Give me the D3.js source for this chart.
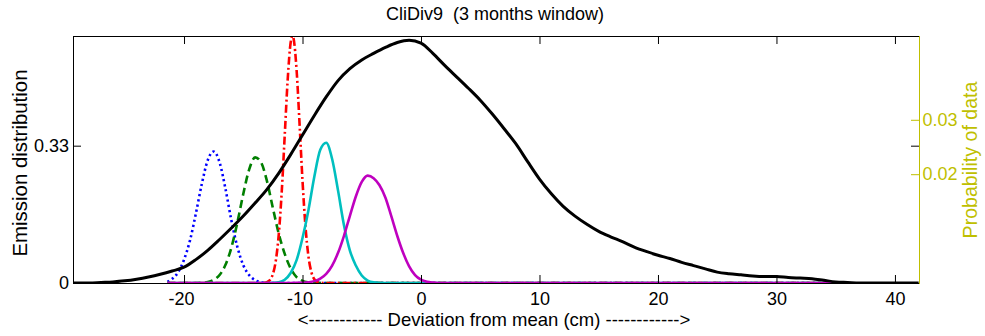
<!DOCTYPE html>
<html>
<head>
<meta charset="utf-8">
<script src="https://cdn.jsdelivr.net/npm/d3@7"></script>
<style>
  html, body { margin: 0; padding: 0; background: #fff; }
  svg { display: block; font-family: "Liberation Sans", Arial, sans-serif; }
  text { white-space: pre; }
</style>
</head>
<body>
<svg id="chart" width="985" height="336"></svg>
<script>
// ---------- data ----------
const titleText = "CliDiv9  (3 months window)";
const xLabelText = "<------------ Deviation from mean (cm) ------------>";
const yLeftLabelText = "Emission distribution";
const yRightLabelText = "Probability of data";

const xDomain = [-29.37, 42.03];
const yLeftDomain = [0, 0.5936];
const yRightDomain = [0, 0.0454];

const xTicks = [-20, -10, 0, 10, 20, 30, 40];
const yLeftTicks = [0, 0.33];
const yLeftTickLabels = ["0", "0.33"];
const yRightTicks = [0.02, 0.03];
const yRightTickLabels = ["0.02", "0.03"];

// Emission distributions (left axis)
const blueX = [-21.4, -21, -20.5, -20, -19.5, -19, -18.5, -18, -17.5, -17, -16.5, -16, -15.5, -15, -14.5, -14, -13.5, -13, -12.5, 35.5];
const blueY = [0.003, 0.010, 0.026, 0.056, 0.102, 0.167, 0.238, 0.295, 0.316, 0.290, 0.226, 0.150, 0.087, 0.043, 0.019, 0.007, 0.002, 0.0005, 0, 0];

const greenX = [-21.4, -19, -18.5, -18, -17.5, -17, -16.5, -16, -15.5, -15, -14.5, -14, -13.5, -13, -12.5, -12, -11.5, -11, -10.5, -10, -9.5, -9, -8.5, 35.5];
const greenY = [0, 0.0001, 0.0007, 0.0024, 0.0074, 0.0192, 0.0436, 0.0855, 0.145, 0.214, 0.273, 0.302, 0.290, 0.245, 0.180, 0.118, 0.070, 0.035, 0.014, 0.005, 0.0015, 0.0003, 0, 0];

const redX = [-21.4, -13.75, -13.5, -13.25, -13, -12.75, -12.5, -12.25, -12, -11.75, -11.5, -11.25, -11, -10.85, -10.75, -10.5, -10.25, -10, -9.75, -9.5, -9.25, -9, -8.75, -8.5, -8.25, 35.5];
const redY = [0, 0, 0.0001, 0.0005, 0.0021, 0.0072, 0.0214, 0.0543, 0.118, 0.221, 0.355, 0.489, 0.578, 0.594, 0.587, 0.512, 0.383, 0.246, 0.136, 0.064, 0.026, 0.0091, 0.0027, 0.0007, 0, 0];

const cyanX = [-21.4, -13, -12.5, -12, -11.5, -11, -10.5, -10, -9.5, -9, -8.5, -8, -7.5, -7, -6.5, -6, -5.5, -5, -4.5, -4, -3.5, -3, 35.5];
const cyanY = [0, 0, 0.0004, 0.002, 0.008, 0.024, 0.055, 0.108, 0.175, 0.256, 0.320, 0.337, 0.298, 0.222, 0.139, 0.078, 0.042, 0.018, 0.006, 0.0015, 0.0003, 0, 0];

const magentaX = [-21.4, -11, -10.5, -10, -9.5, -9, -8.5, -8, -7.5, -7, -6.5, -6, -5.5, -5, -4.5, -4, -3.5, -3, -2.5, -2, -1.5, -1, -0.5, 0, 0.5, 1, 1.5, 35.4];
const magentaY = [0, 0, 0.0002, 0.0006, 0.0018, 0.0045, 0.0105, 0.022, 0.042, 0.0725, 0.1135, 0.1615, 0.208, 0.243, 0.258, 0.252, 0.235, 0.205, 0.160, 0.113, 0.072, 0.040, 0.019, 0.008, 0.003, 0.001, 0, 0];

// Probability of data (right axis)
const blackX = [-29.4, -29, -28, -27, -26, -25, -24, -23, -22, -21, -20, -19, -18, -17, -16, -15, -14, -13, -12, -11, -10, -9, -8, -7, -6, -5, -4, -3, -2, -1, 0, 1, 2, 3, 4, 5, 6, 7, 8, 9, 10, 11, 12, 13, 14, 15, 16, 17, 18, 19, 20, 21, 22, 23, 24, 25, 26, 27, 28, 29, 30, 31, 32, 33, 34, 35, 36, 37, 38, 39, 40, 41, 42];
const blackY = [0, 0, 0, 0.0001, 0.0002, 0.0004, 0.0007, 0.0011, 0.0016, 0.0022, 0.0029, 0.0043, 0.0060, 0.0080, 0.0101, 0.0123, 0.0147, 0.0172, 0.0202, 0.0236, 0.0272, 0.0308, 0.0342, 0.0372, 0.0394, 0.0410, 0.0422, 0.0433, 0.0442, 0.0446, 0.0441, 0.0422, 0.0400, 0.0379, 0.0358, 0.0336, 0.0311, 0.0284, 0.0256, 0.0223, 0.0191, 0.0164, 0.0141, 0.0123, 0.0108, 0.0095, 0.0085, 0.0076, 0.0066, 0.0058, 0.0051, 0.0045, 0.0038, 0.0032, 0.0026, 0.0020, 0.0017, 0.0015, 0.0013, 0.0012, 0.0012, 0.0010, 0.0009, 0.0008, 0.0005, 0.0002, 0.0001, 0, 0, 0, 0, 0, 0];

const emissionSeries = [
  { name: "state1", xs: blueX, ys: blueY, color: "#0000ff", dash: "2.2,3", width: 2.6 },
  { name: "state2", xs: greenX, ys: greenY, color: "#007f00", dash: "8,4.5", width: 2.6 },
  { name: "state3", xs: redX, ys: redY, color: "#ff0000", dash: "8,3,2,3", width: 2.6 },
  { name: "state4", xs: cyanX, ys: cyanY, color: "#00bfbf", dash: null, width: 2.6 },
  { name: "state5", xs: magentaX, ys: magentaY, color: "#bf00bf", dash: null, width: 2.6 }
];

// ---------- layout ----------
const L = 73, T = 36, R = 919, B = 283;
const yellow = "#bfbf00";
const svg = d3.select("#chart");

const x = d3.scaleLinear().domain(xDomain).range([L, R]);
const yL = d3.scaleLinear().domain(yLeftDomain).range([B, T]);
const yR = d3.scaleLinear().domain(yRightDomain).range([B, T]);

svg.append("defs").append("clipPath").attr("id", "clip")
  .append("rect").attr("x", L).attr("y", T).attr("width", R - L).attr("height", B - T);

// ---------- data lines ----------
const plot = svg.append("g").attr("clip-path", "url(#clip)");
const lineL = d3.line().x(d => x(d[0])).y(d => yL(d[1])).curve(d3.curveMonotoneX);
const lineR = d3.line().x(d => x(d[0])).y(d => yR(d[1])).curve(d3.curveMonotoneX);

emissionSeries.forEach(s => {
  const pts = s.xs.map((v, i) => [v, s.ys[i]]);
  plot.append("path")
    .attr("d", lineL(pts))
    .attr("fill", "none")
    .attr("stroke", s.color)
    .attr("stroke-width", s.width)
    .attr("stroke-dasharray", s.dash)
    .attr("stroke-linejoin", "round");
});

plot.append("path")
  .attr("d", lineR(blackX.map((v, i) => [v, blackY[i]])))
  .attr("fill", "none")
  .attr("stroke", "#000")
  .attr("stroke-width", 3)
  .attr("stroke-linejoin", "round");

// ---------- axes ----------
const fs = 18;
const axBottom = d3.axisBottom(x).tickValues(xTicks).tickSizeInner(-8).tickSizeOuter(0).tickPadding(9.5).tickFormat(d3.format("d"));
const axTop = d3.axisTop(x).tickValues(xTicks).tickSizeInner(-8).tickSizeOuter(0).tickFormat("");
const axLeft = d3.axisLeft(yL).tickValues(yLeftTicks).tickSizeInner(-8).tickSizeOuter(0).tickPadding(4)
  .tickFormat((d, i) => yLeftTickLabels[i]);
const axLeftMirror = d3.axisRight(yL).tickValues(yLeftTicks).tickSizeInner(-8).tickSizeOuter(0).tickFormat("");
const axRight = d3.axisRight(yR).tickValues(yRightTicks).tickSizeInner(-8).tickSizeOuter(0).tickPadding(3.5)
  .tickFormat((d, i) => yRightTickLabels[i]);

function style(g, color) {
  g.select(".domain").remove();
  g.selectAll(".tick line").attr("stroke", color).attr("stroke-width", 1);
  g.selectAll(".tick text").attr("fill", color).attr("font-size", fs)
    .attr("font-family", "'Liberation Sans', Arial, sans-serif");
}

svg.append("g").attr("transform", `translate(0,${B})`).call(axBottom).call(g => style(g, "#000"))
  .call(g => g.selectAll(".tick text").attr("dx", d => d < 0 ? -3 : 0).text(d => d < 0 ? "-" + Math.abs(d) : String(d)));
svg.append("g").attr("transform", `translate(0,${T})`).call(axTop).call(g => style(g, "#000"));
svg.append("g").attr("transform", `translate(${L},0)`).call(axLeft).call(g => style(g, "#000"));
svg.append("g").attr("transform", `translate(${R},0)`).call(axLeftMirror).call(g => style(g, "#000"));
svg.append("g").attr("transform", `translate(${R},0)`).call(axRight).call(g => style(g, yellow));

// box lines
svg.append("line").attr("x1", L).attr("x2", R).attr("y1", T + 0.5).attr("y2", T + 0.5).attr("stroke", "#000");
svg.append("line").attr("x1", L).attr("x2", R).attr("y1", B + 0.5).attr("y2", B + 0.5).attr("stroke", "#000");
svg.append("line").attr("x1", L + 0.5).attr("x2", L + 0.5).attr("y1", T).attr("y2", B + 1).attr("stroke", "#000");
svg.append("line").attr("x1", R + 0.5).attr("x2", R + 0.5).attr("y1", T).attr("y2", B + 1).attr("stroke", yellow);

// ---------- labels ----------
svg.append("text").attr("x", 495).attr("y", 20).attr("text-anchor", "middle")
  .attr("font-size", 18).attr("fill", "#000").text(titleText);
svg.append("text").attr("x", 494).attr("y", 326).attr("text-anchor", "middle")
  .attr("font-size", 18.5).attr("fill", "#000").text(xLabelText);
svg.append("text").attr("transform", "translate(27,163) rotate(-90)").attr("text-anchor", "middle")
  .attr("font-size", 20.4).attr("fill", "#000").text(yLeftLabelText);
svg.append("text").attr("transform", "translate(977,160) rotate(-90)").attr("text-anchor", "middle")
  .attr("font-size", 19.6).attr("fill", yellow).text(yRightLabelText);
</script>
</body>
</html>
